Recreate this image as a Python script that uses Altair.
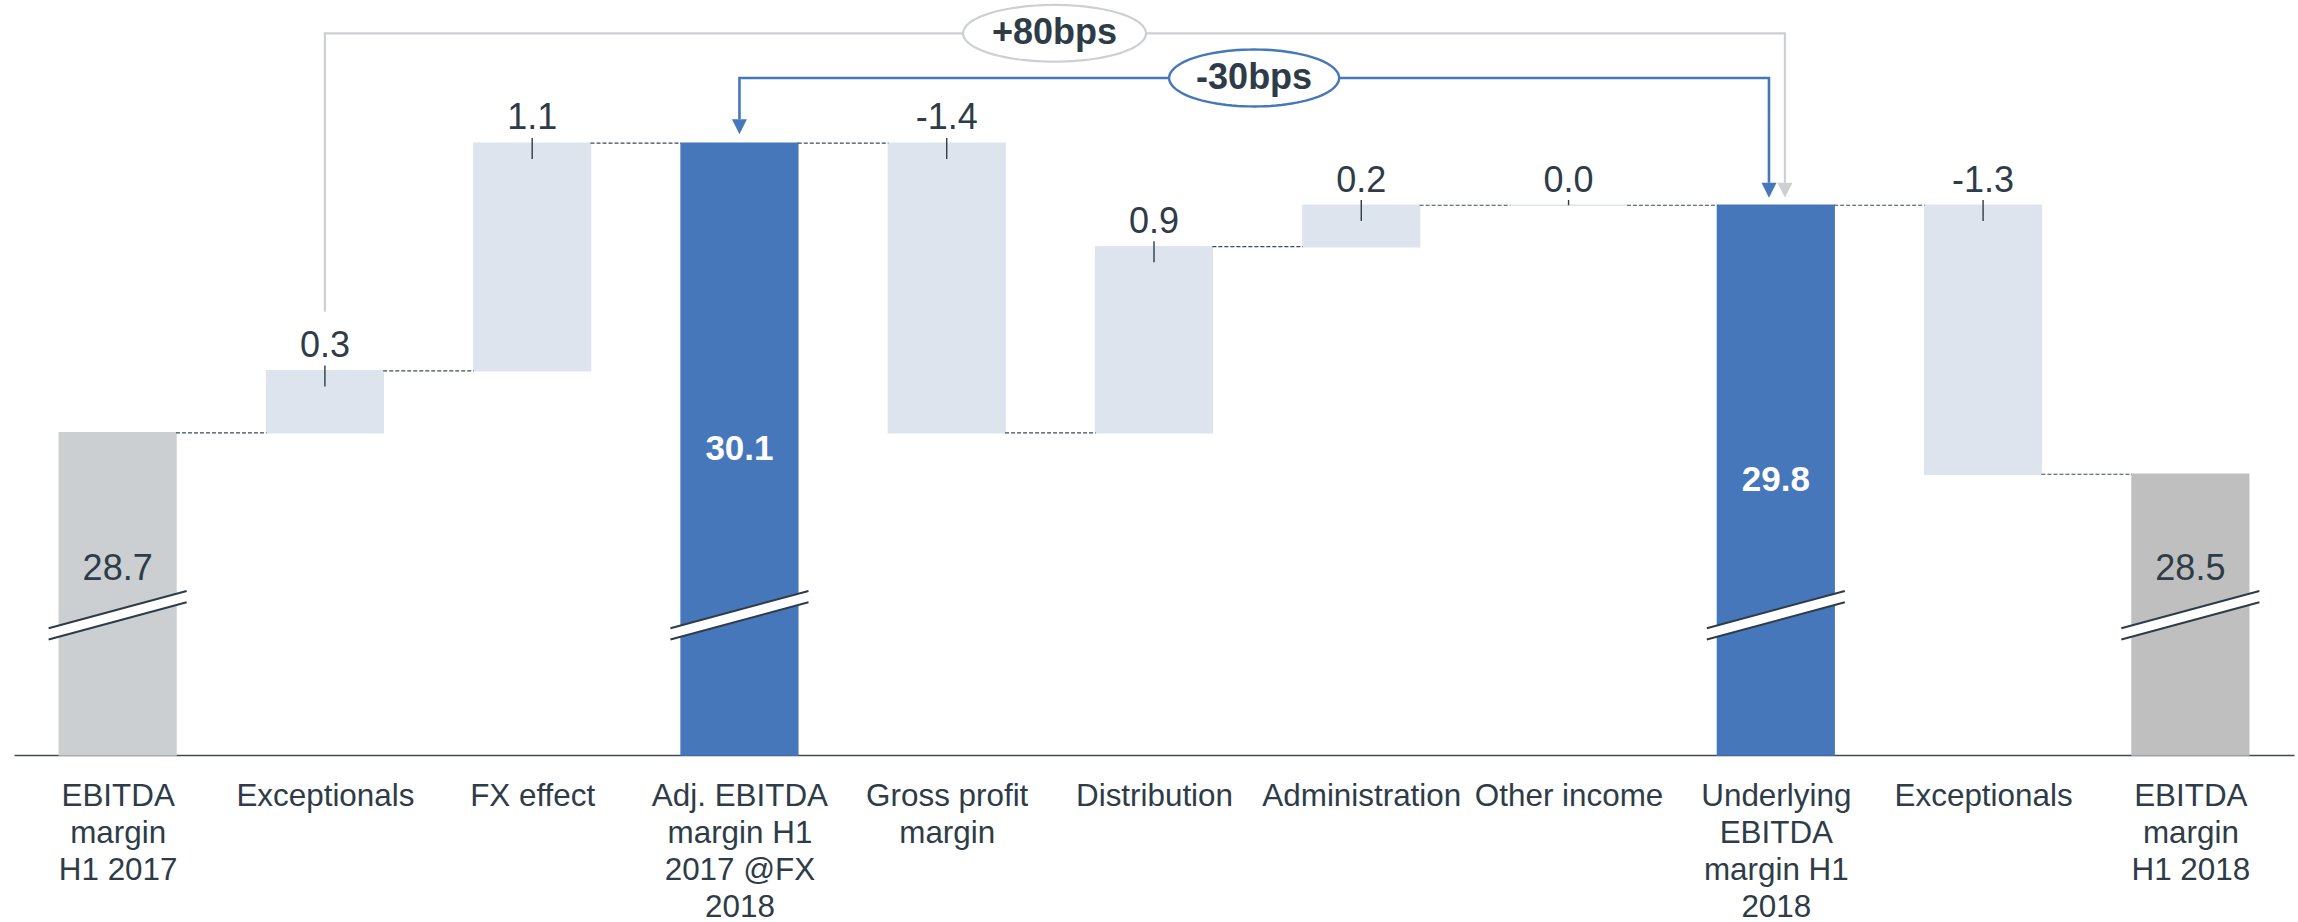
import json
import math

import altair as alt
import pandas as pd

# EBITDA margin bridge, H1 2017 -> H1 2018 (%)
label_lines = [
    ["EBITDA", "margin", "H1 2017"],
    ["Exceptionals"],
    ["FX effect"],
    ["Adj. EBITDA", "margin H1", "2017 @FX", "2018"],
    ["Gross profit", "margin"],
    ["Distribution"],
    ["Administration"],
    ["Other income"],
    ["Underlying", "EBITDA", "margin H1", "2018"],
    ["Exceptionals"],
    ["EBITDA", "margin", "H1 2018"],
]
values = [28.7, 0.3, 1.1, 30.1, -1.4, 0.9, 0.2, 0.0, 29.8, -1.3, 28.5]
kinds = ["start", "delta", "delta", "subtotal", "delta", "delta",
         "delta", "delta", "subtotal", "delta", "end"]
bracket_text = ["+80bps", "-30bps"]

# ---- layout / style ----
PLOT_W, PLOT_H = 2280, 755
Y_MIN, Y_MAX = 27.143, 30.792          # broken value axis
BAR_HALF = 0.2815                       # half bar width in step units
INK = "#2e3c48"
FILLS = {"start": "#cbcfd1", "delta": "#dee4ee",
         "subtotal": "#4677bb", "end": "#bfbfbf"}
GREY_LINK = "#cdd0d2"
BLUE = "#4677bb"
DASH = "#3d4b57"
FONT = "Liberation Sans, Arial, Helvetica, sans-serif"


def px(n):
    """Pixel distance expressed in value units of the y scale."""
    return n * (Y_MAX - Y_MIN) / PLOT_H


# ---- waterfall geometry ----
rows = []
level = None
for i, (v, k) in enumerate(zip(values, kinds)):
    if k == "delta":
        a, b = level, level + v
        lo, hi = min(a, b), max(a, b)
        level = b
    else:
        lo, hi = Y_MIN, v
        level = v
    rows.append(dict(i=i, x0=i - BAR_HALF, x1=i + BAR_HALF, lo=lo, hi=hi,
                     end=level, kind=k, fill=FILLS[k], txt=f"{v:.1f}"))
bars = pd.DataFrame(rows)

links = pd.DataFrame([
    dict(x0=i + BAR_HALF, x1=i + 1 - BAR_HALF, y=bars.loc[i, "end"])
    for i in range(len(values) - 1)
])

deltas = bars[bars.kind == "delta"].copy()
deltas["t0"] = deltas.hi + px(5.3)
deltas["t1"] = [max(lo, hi - px(15.7)) for lo, hi in zip(deltas.lo, deltas.hi)]

subtotals = bars[bars.kind == "subtotal"].copy()
subtotals["ym"] = (subtotals.hi + Y_MIN) / 2

endpoints = bars[bars.kind.isin(["start", "end"])].copy()
endpoints["ym"] = 27.989

totals = bars[bars.kind != "delta"].copy()
BREAK_A, BREAK_B = 27.7285, 27.9085
breaks = pd.DataFrame([
    dict(x0=i - 0.333, x1=i + 0.333, ya=BREAK_A, yb=BREAK_B) for i in totals.i
])
breaks_up = breaks.assign(ya=breaks.ya + px(5.6), yb=breaks.yb + px(5.6))
breaks_dn = breaks.assign(ya=breaks.ya - px(5.6), yb=breaks.yb - px(5.6))

# ---- bracket annotations (+80bps: step 1 -> 8, -30bps: step 3 -> 8) ----
top = dict(zip(bars.i, bars.hi))
g_lvl = Y_MAX - px(33.3)
b_lvl = Y_MAX - px(78)
g_x1, b_x1 = 8.044, 7.967
g_tip = top[8] + px(7.5)
b_tip_r = top[8] + px(7.5)
b_tip_l = top[3] + px(9)
ARROW = 15

paths = pd.DataFrame([
    dict(s="g", o=0, x=1, y=top[1] + px(59)),
    dict(s="g", o=1, x=1, y=g_lvl),
    dict(s="g", o=2, x=g_x1, y=g_lvl),
    dict(s="g", o=3, x=g_x1, y=g_tip + px(ARROW)),
    dict(s="b", o=0, x=3, y=b_tip_l + px(ARROW)),
    dict(s="b", o=1, x=3, y=b_lvl),
    dict(s="b", o=2, x=b_x1, y=b_lvl),
    dict(s="b", o=3, x=b_x1, y=b_tip_r + px(ARROW)),
])
heads = pd.DataFrame([
    dict(s="g", x=g_x1, y=g_tip, c=GREY_LINK),
    dict(s="b", x=b_x1, y=b_tip_r, c=BLUE),
    dict(s="b", x=3, y=b_tip_l, c=BLUE),
])
badges = pd.DataFrame([
    dict(x=4.52, y=g_lvl, t=bracket_text[0]),
    dict(x=5.483, y=b_lvl, t=bracket_text[1]),
])


def ellipse_path(ratio, n=96):
    pts = [(math.cos(2 * math.pi * k / n), ratio * math.sin(2 * math.pi * k / n))
           for k in range(n)]
    return "M " + " L ".join(f"{x:.4f} {y:.4f}" for x, y in pts) + " Z"


ARROW_PATH = "M -1 -2 L 1 -2 L 0 0 Z"

# ---- shared scales and axis ----
xs = alt.Scale(domain=[-0.5, len(values) - 0.5], nice=False, zero=False)
ys = alt.Scale(domain=[Y_MIN, Y_MAX], nice=False, zero=False)

x_axis = alt.Axis(
    values=list(range(len(values))),
    labelExpr=json.dumps(label_lines) + "[datum.value]",
    title=None, grid=False, ticks=False, tickSize=0,
    domain=True, domainColor=DASH, domainWidth=1.6,
    labelFont=FONT, labelFontSize=31.4, labelColor=INK,
    labelLineHeight=37, labelPadding=25, labelAlign="center",
    labelBaseline="top", labelOverlap=False, labelFlush=False,
    labelBound=False, labelLimit=0,
)


def X(f):
    return alt.X(f, type="quantitative", scale=xs, axis=x_axis)


def Y(f):
    return alt.Y(f, type="quantitative", scale=ys, axis=None)


bar_layer = alt.Chart(bars).mark_rect(strokeWidth=1.5).encode(
    x=X("x0"), x2="x1", y=Y("lo"), y2="hi",
    fill=alt.Fill("fill:N", scale=None),
    stroke=alt.Stroke("fill:N", scale=None),
)

link_layer = alt.Chart(links).mark_rule(
    color=DASH, strokeWidth=1.2, strokeDash=[4, 2]
).encode(x=X("x0"), x2="x1", y=Y("y"))

break_fill = alt.Chart(breaks).mark_rule(color="white", strokeWidth=11).encode(
    x=X("x0"), x2="x1", y=Y("ya"), y2="yb")
break_up = alt.Chart(breaks_up).mark_rule(color=INK, strokeWidth=2).encode(
    x=X("x0"), x2="x1", y=Y("ya"), y2="yb")
break_dn = alt.Chart(breaks_dn).mark_rule(color=INK, strokeWidth=2).encode(
    x=X("x0"), x2="x1", y=Y("ya"), y2="yb")

tick_layer = alt.Chart(deltas).mark_rule(color=INK, strokeWidth=1.4).encode(
    x=X("i"), y=Y("t0"), y2="t1")

delta_text = alt.Chart(deltas).mark_text(
    font=FONT, fontSize=36, color=INK, baseline="alphabetic", dy=-13.7
).encode(x=X("i"), y=Y("hi"), text="txt:N")

sub_text = alt.Chart(subtotals).mark_text(
    font=FONT, fontSize=35, fontWeight="bold", color="white", baseline="middle"
).encode(x=X("i"), y=Y("ym"), text="txt:N")

end_text = alt.Chart(endpoints).mark_text(
    font=FONT, fontSize=36, color=INK, baseline="alphabetic"
).encode(x=X("i"), y=Y("ym"), text="txt:N")

path_g = alt.Chart(paths[paths.s == "g"]).mark_line(
    color=GREY_LINK, strokeWidth=2.2, strokeJoin="miter"
).encode(x=X("x"), y=Y("y"), order="o:Q")
path_b = alt.Chart(paths[paths.s == "b"]).mark_line(
    color=BLUE, strokeWidth=2.6, strokeJoin="miter"
).encode(x=X("x"), y=Y("y"), order="o:Q")

head_layer = alt.Chart(heads).mark_point(
    shape=ARROW_PATH, size=ARROW * ARROW, filled=True, opacity=1, strokeWidth=0
).encode(x=X("x"), y=Y("y"), color=alt.Color("c:N", scale=None))

badge_g = alt.Chart(badges.iloc[[0]]).mark_point(
    shape=ellipse_path(0.31), size=183 * 183, fill="white", fillOpacity=1,
    stroke=GREY_LINK, strokeWidth=2.2, strokeOpacity=1, opacity=1
).encode(x=X("x"), y=Y("y"))
badge_b = alt.Chart(badges.iloc[[1]]).mark_point(
    shape=ellipse_path(0.335), size=170 * 170, fill="white", fillOpacity=1,
    stroke=BLUE, strokeWidth=2.4, strokeOpacity=1, opacity=1
).encode(x=X("x"), y=Y("y"))
badge_text = alt.Chart(badges).mark_text(
    font=FONT, fontSize=36, fontWeight="bold", color=INK, baseline="middle"
).encode(x=X("x"), y=Y("y"), text="t:N")

chart = alt.layer(
    bar_layer, link_layer, break_fill, break_up, break_dn, tick_layer,
    delta_text, sub_text, end_text, path_g, path_b, head_layer,
    badge_g, badge_b, badge_text,
).properties(
    width=PLOT_W, height=PLOT_H,
    padding={"left": 14, "top": 0, "right": 4, "bottom": 167},
    autosize=alt.AutoSizeParams(type="none"),
    background="white",
).configure_view(stroke=None)

chart.save("out.html", embed_options={"renderer": "svg", "actions": False})
